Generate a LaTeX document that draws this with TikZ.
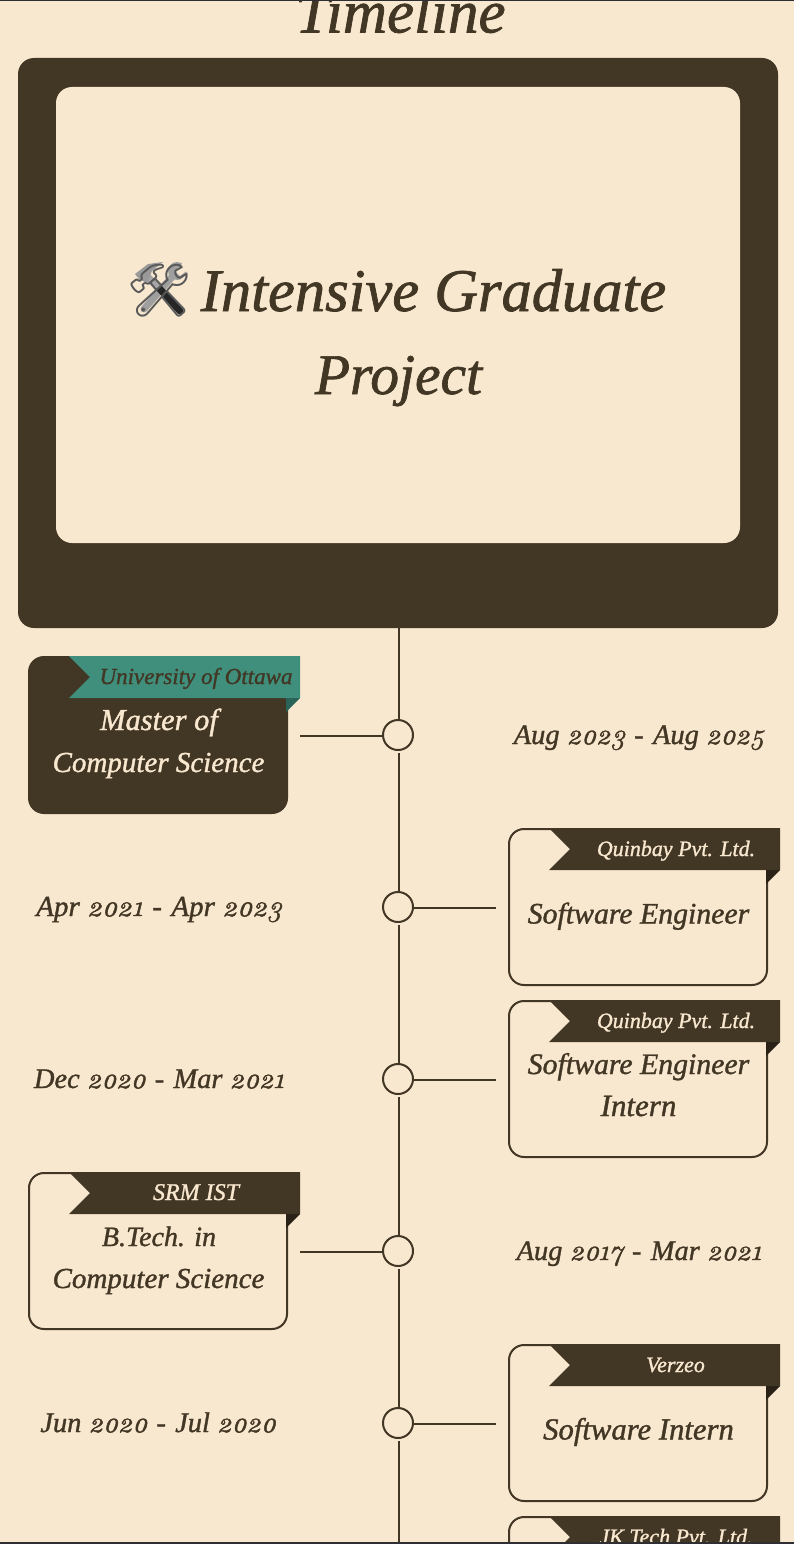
\documentclass[tikz,border=0pt]{standalone}
\usepackage{fontspec}
\setmainfont{Liberation Serif}[UprightFont=* Italic,UprightFeatures={FakeBold=1.2},BoldFont=* Bold Italic]
\newfontfamily\oldnum{Latin Modern Roman}[Numbers=OldStyle,ItalicFeatures={FakeBold=1.6}]
\newfontfamily\emojifont{Noto Emoji}
\usetikzlibrary{calc}
\definecolor{paper}{HTML}{F9E8D0}
\definecolor{umber}{HTML}{423624}
\definecolor{teal1}{HTML}{3F8F7C}
\definecolor{teal2}{HTML}{2A6459}
\definecolor{fold}{HTML}{2A2216}
\definecolor{edge}{HTML}{2E2E33}
\newcommand{\yr}[1]{{\oldnum\itshape #1}}
\newcommand{\dsh}{\hspace{0.08em}-\hspace{0.08em}}
\newcommand{\fs}[1]{\fontsize{#1}{#1}\selectfont}
\tikzset{
  x=1pt,y=-1pt,
  heading/.style={font=\fontsize{60.5}{60}\selectfont,text=umber,anchor=base,inner sep=0pt},
  datelabel/.style={font=\fontsize{28.4}{30}\selectfont,text=umber,anchor=base,inner sep=0pt},
  roletext/.style={font=\fontsize{29.8}{30}\selectfont,text=umber,anchor=base,inner sep=0pt},
  tagtext/.style={font=\fontsize{22}{24}\selectfont,text=paper,anchor=base,inner sep=0pt},
  ring/.style={circle,draw=umber,line width=2pt,fill=paper,minimum size=30pt,inner sep=0pt},
  link/.style={draw=umber,line width=2pt},
  cardbox/.style={draw=umber,line width=2pt,fill=paper,rounded corners=15pt},
  cardfill/.style={fill=umber,rounded corners=16pt},
}
\newcommand{\ribbon}[4]{% left x, top y, fill, fold
  \fill[#3] (#1,#2) -- (#1+231,#2) -- (#1+231,#2+42) -- (#1,#2+42) -- (#1+21,#2+21) -- cycle;
  \fill[#4] (#1+217,#2+42) -- (#1+231,#2+42) -- (#1+217,#2+56) -- cycle;
}
\begin{document}
\begin{tikzpicture}
\useasboundingbox (0,0) rectangle (794,1544);
\clip (0,0) rectangle (794,1544);
\fill[paper] (0,0) rectangle (794,1544);

% hero
\fill[umber,rounded corners=16pt] (18,58) rectangle (778,628);
\fill[paper,rounded corners=16pt] (56,87) rectangle (740,543);
\coordinate (lineTop) at (399,628);
\node[heading,font=\fs{61}] (pagetitle) at (400.5,32.5) {Timeline};
\node[heading] (herolineA) at (433.5,311) {Intensive Graduate};
% colour under the emoji glyph
\draw[gray!75,line width=7pt,line cap=round] (144,309) -- (172,277);
\fill[gray!75] (177,271) circle (9pt);
\fill[paper] (184,262) -- (175,271) -- (180,276) -- (190,268) -- cycle;
\draw[black!85,line width=7pt,line cap=round] (158,287) -- (180,311);
\draw[gray!70,line width=7pt] (148,277) -- (158,288);
\fill[gray!80] (135,274) -- (148,264) -- (163,262) -- (152,271) -- (147,283) -- (139,279) -- cycle;
\node[font=\fontsize{52}{56}\selectfont\emojifont,text=black!65,anchor=base,inner sep=0pt] (heroicon) at (159.5,308) {🛠};
\node[heading,font=\fs{57.5}] (herolineB) at (398.5,394) {Project};

% spine rings
\node[ring] (r1) at (398,735) {};
\node[ring] (r2) at (398,907) {};
\node[ring] (r3) at (398,1079) {};
\node[ring] (r4) at (398,1251) {};
\node[ring] (r5) at (398,1423) {};
\coordinate (lineEnd) at (399,1544);
\draw[link] (lineTop) -- (lineTop |- r1.north);
\draw[link] ($(lineTop |- r1.south)+(0,2)$) -- (lineTop |- r2.north);
\draw[link] ($(lineTop |- r2.south)+(0,2)$) -- (lineTop |- r3.north);
\draw[link] ($(lineTop |- r3.south)+(0,2)$) -- (lineTop |- r4.north);
\draw[link] ($(lineTop |- r4.south)+(0,2)$) -- (lineTop |- r5.north);
\draw[link] ($(lineTop |- r5.south)+(0,2)$) -- (lineEnd);

% connectors
\coordinate (c1) at (300,736);
\coordinate (c2) at (496,908);
\coordinate (c3) at (496,1080);
\coordinate (c4) at (300,1252);
\coordinate (c5) at (496,1424);
\draw[link] (c1) -- (c1 -| r1.west);
\draw[link] (c2) -- (c2 -| r2.east);
\draw[link] (c3) -- (c3 -| r3.east);
\draw[link] (c4) -- (c4 -| r4.west);
\draw[link] (c5) -- (c5 -| r5.east);

% card 1
\fill[cardfill] (28,656) rectangle (288,814);
\ribbon{69}{656}{teal1}{teal2}
\node[tagtext,text=umber,font=\fs{23}] (t1) at (196,684) {University of Ottawa};
\node[roletext,text=paper,font=\fs{30.5}] (m1a) at (159,730) {Master of};
\node[roletext,text=paper,font=\fs{29}] (m1b) at (158.5,772) {Computer Science};
\node[datelabel] (d1) at (639,744) {Aug \yr{2023} \dsh{} Aug \yr{2025}};

% card 2
\draw[cardbox] (509,829) rectangle (767,985);
\ribbon{549}{828}{umber}{fold}
\node[tagtext] (t2) at (676,856) {Quinbay Pvt. Ltd.};
\node[roletext] (m2) at (638.5,923.5) {Software Engineer};
\node[datelabel,font=\fs{29}] (d2) at (159,916) {Apr \yr{2021} \dsh{} Apr \yr{2023}};

% card 3
\draw[cardbox] (509,1001) rectangle (767,1157);
\ribbon{549}{1000}{umber}{fold}
\node[tagtext] (t3) at (676,1028) {Quinbay Pvt. Ltd.};
\node[roletext] (m3a) at (638.5,1074) {Software Engineer};
\node[roletext,font=\fs{31}] (m3b) at (638.5,1116) {Intern};
\node[datelabel] (d3) at (159,1088) {Dec \yr{2020} \dsh{} Mar \yr{2021}};

% card 4
\draw[cardbox] (29,1173) rectangle (287,1329);
\ribbon{69}{1172}{umber}{fold}
\node[tagtext,font=\fs{24}] (t4) at (196,1200) {SRM IST};
\node[roletext,font=\fs{28}] (m4a) at (159,1246) {B.Tech. in};
\node[roletext,font=\fs{29}] (m4b) at (158.5,1288) {Computer Science};
\node[datelabel] (d4) at (639,1260) {Aug \yr{2017} \dsh{} Mar \yr{2021}};

% card 5
\draw[cardbox] (509,1345) rectangle (767,1501);
\ribbon{549}{1344}{umber}{fold}
\node[tagtext] (t5) at (675.5,1372) {Verzeo};
\node[roletext,font=\fs{30.7}] (m5) at (638.5,1439.5) {Software Intern};
\node[datelabel] (d5) at (158,1432) {Jun \yr{2020} \dsh{} Jul \yr{2020}};

% card 6 (cut off)
\draw[cardbox] (509,1517) rectangle (767,1673);
\ribbon{549}{1516}{umber}{fold}
\node[tagtext] (t6) at (676,1544) {JK Tech Pvt. Ltd.};

% page edges
\fill[edge] (0,0) rectangle (794,1.5);
\fill[edge] (0,1542) rectangle (794,1544);
\end{tikzpicture}
\end{document}
